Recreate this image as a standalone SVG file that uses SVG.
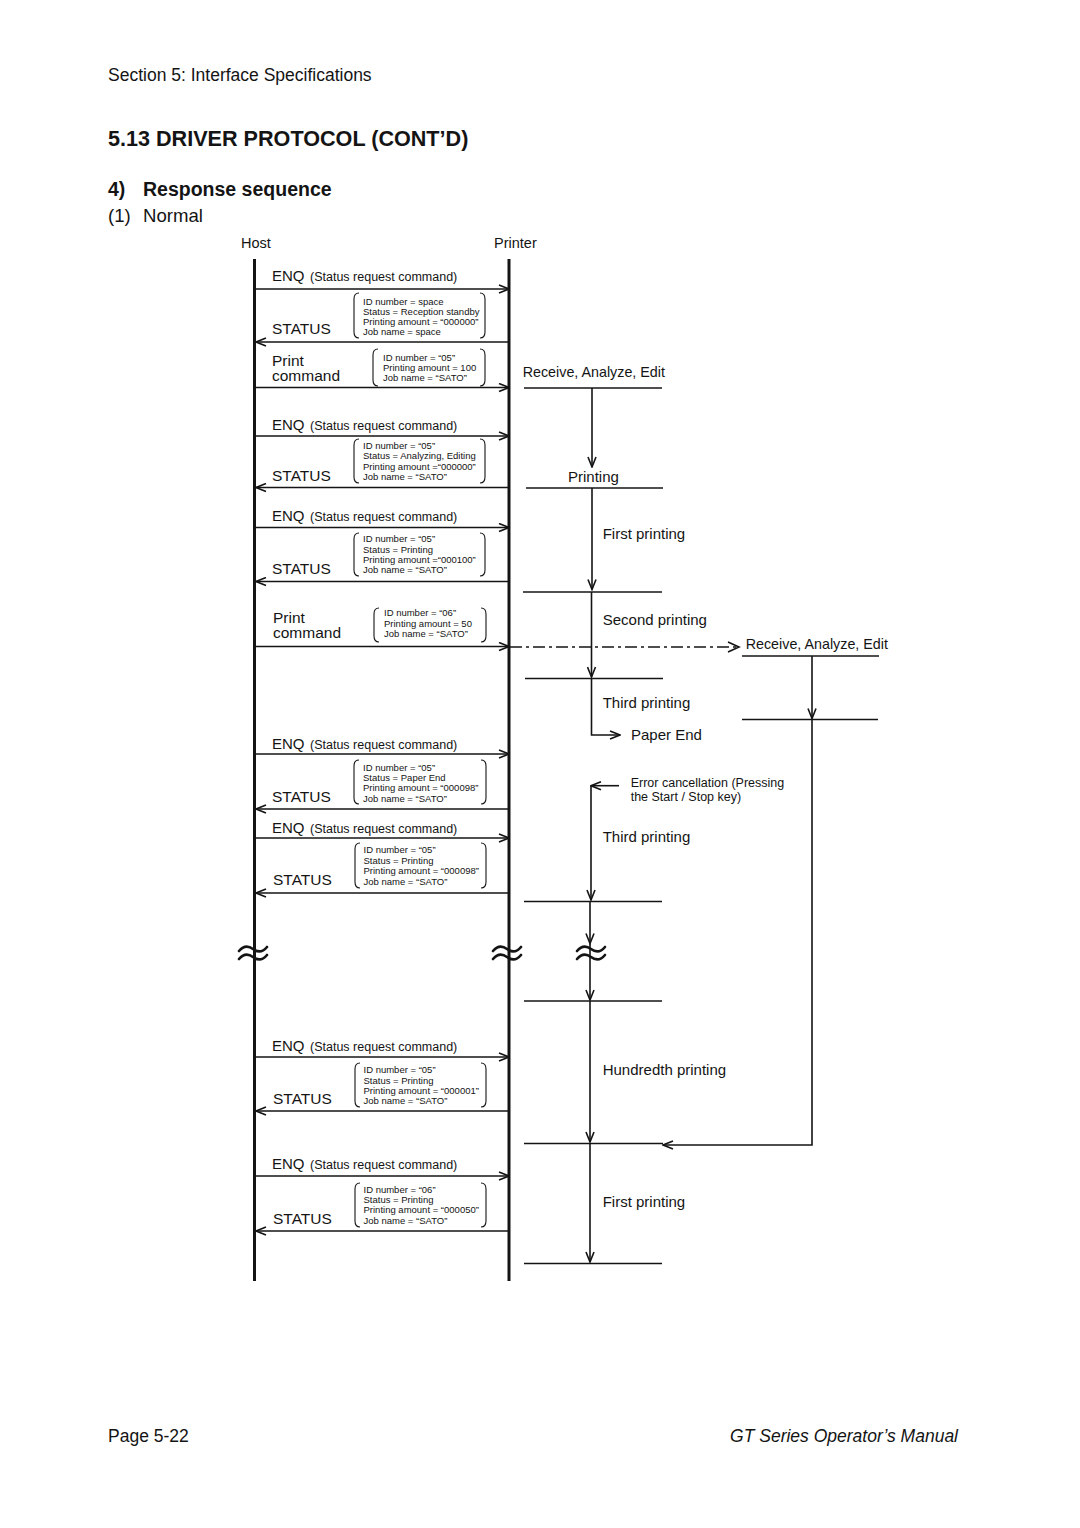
<svg xmlns="http://www.w3.org/2000/svg" width="1080" height="1528" viewBox="0 0 1080 1528">
<style>
text{font-family:"Liberation Sans",Arial,Helvetica,sans-serif;fill:#141414}
.hdr{font-size:17.5px}
.title{font-size:21.6px;font-weight:bold}
.sub{font-size:19.5px;font-weight:bold}
.norm{font-size:18.6px}
.who{font-size:14.5px}
.lbl{font-size:15.5px}
.enq{font-size:15px}
.enqs{font-size:12.5px}
.bx{font-size:9.5px}
.pl{font-size:15px}
.rae{font-size:14.3px}
.err{font-size:12.5px}
.ln{stroke:#141414;stroke-width:1.6;fill:none}
.life{stroke:#141414;stroke-width:3;fill:none}
.br{stroke:#141414;stroke-width:1.1;fill:none}
.sq{stroke:#141414;stroke-width:2.6;fill:none;stroke-linecap:round}
.dd{stroke:#141414;stroke-width:1.6;fill:none;stroke-dasharray:12 4 3 4}
</style>
<defs>
<marker id="ah" viewBox="0 0 12 10" refX="11" refY="5" markerWidth="12" markerHeight="10" markerUnits="userSpaceOnUse" orient="auto">
<path d="M1,1 L11,5 L1,9" fill="none" stroke="#141414" stroke-width="1.6"/>
</marker>
</defs>
<rect width="1080" height="1528" fill="#fff"/>

<g id="header">
<text class="hdr" x="108" y="81">Section 5: Interface Specifications</text>
<text class="title" x="108" y="146">5.13 DRIVER PROTOCOL (CONT’D)</text>
<text class="sub" x="108" y="196">4)</text>
<text class="sub" x="143" y="196">Response sequence</text>
<text class="norm" x="108" y="222">(1)</text>
<text class="norm" x="143" y="222">Normal</text>
</g>

<g id="host"><text class="who" x="241" y="248">Host</text><line class="life" x1="254.5" y1="259" x2="254.5" y2="1281"/></g>
<g id="printer"><text class="who" x="494" y="248">Printer</text><line class="life" x1="509" y1="259" x2="509" y2="1281"/></g>

<g id="breaks">
<path class="sq" d="M239,951 C244,945 249,946 253,949 C257,952 262,953 267,947"/>
<path class="sq" d="M239,959 C244,953 249,954 253,957 C257,960 262,961 267,955"/>
<path class="sq" d="M493,951 C498,945 503,946 507,949 C511,952 516,953 521,947"/>
<path class="sq" d="M493,959 C498,953 503,954 507,957 C511,960 516,961 521,955"/>
<path class="sq" d="M577,951 C582,945 587,946 591,949 C595,952 600,953 605,947"/>
<path class="sq" d="M577,959 C582,953 587,954 591,957 C595,960 600,961 605,955"/>
</g>

<g id="msg-enq1"><text x="272" y="281"><tspan class="enq">ENQ</tspan><tspan class="enqs" x="310">(Status request command)</tspan></text></g>
<g id="msg-status1"><text class="lbl" x="272" y="334">STATUS</text>
<path class="br" d="M359,293 Q354,293 354,299 V332 Q354,338 359,338 M480,293 Q485,293 485,299 V332 Q485,338 480,338"/>
<text class="bx" x="363"><tspan x="363" y="305">ID number = space</tspan><tspan x="363" y="315">Status = Reception standby</tspan><tspan x="363" y="325">Printing amount = “000000”</tspan><tspan x="363" y="335">Job name = space</tspan></text></g>
<g id="msg-print1"><text class="lbl" x="272" y="366">Print</text><text class="lbl" x="272" y="381">command</text>
<path class="br" d="M378,349 Q373,349 373,355 V380 Q373,386 378,386 M480,349 Q485,349 485,355 V380 Q485,386 480,386"/>
<text class="bx"><tspan x="383" y="360.5">ID number = “05”</tspan><tspan x="383" y="370.5">Printing amount = 100</tspan><tspan x="383" y="380.5">Job name = “SATO”</tspan></text></g>

<g id="msg-enq2"><text x="272" y="429.5"><tspan class="enq">ENQ</tspan><tspan class="enqs" x="310">(Status request command)</tspan></text></g>
<g id="msg-status2"><text class="lbl" x="272" y="480.5">STATUS</text>
<path class="br" d="M359,439 Q354,439 354,445 V477 Q354,483 359,483 M480,439 Q485,439 485,445 V477 Q485,483 480,483"/>
<text class="bx"><tspan x="363" y="449">ID number = “05”</tspan><tspan x="363" y="459.3">Status = Analyzing, Editing</tspan><tspan x="363" y="469.6">Printing amount =“000000”</tspan><tspan x="363" y="480">Job name = “SATO”</tspan></text></g>

<g id="msg-enq3"><text x="272" y="521"><tspan class="enq">ENQ</tspan><tspan class="enqs" x="310">(Status request command)</tspan></text></g>
<g id="msg-status3"><text class="lbl" x="272" y="573.5">STATUS</text>
<path class="br" d="M359,533 Q354,533 354,539 V570 Q354,576 359,576 M480,533 Q485,533 485,539 V570 Q485,576 480,576"/>
<text class="bx"><tspan x="363" y="542.3">ID number = “05”</tspan><tspan x="363" y="552.6">Status = Printing</tspan><tspan x="363" y="563">Printing amount =“000100”</tspan><tspan x="363" y="573.3">Job name = “SATO”</tspan></text></g>

<g id="msg-print2"><text class="lbl" x="273" y="623">Print</text><text class="lbl" x="273" y="638">command</text>
<path class="br" d="M379,608 Q374,608 374,614 V636 Q374,642 379,642 M481,608 Q486,608 486,614 V636 Q486,642 481,642"/>
<text class="bx"><tspan x="384" y="616">ID number = “06”</tspan><tspan x="384" y="626.6">Printing amount = 50</tspan><tspan x="384" y="636.6">Job name = “SATO”</tspan></text></g>

<g id="msg-enq4"><text x="272" y="748.7"><tspan class="enq">ENQ</tspan><tspan class="enqs" x="310">(Status request command)</tspan></text></g>
<g id="msg-status4"><text class="lbl" x="272" y="802">STATUS</text>
<path class="br" d="M359,760 Q354,760 354,766 V798 Q354,804 359,804 M481,760 Q486,760 486,766 V798 Q486,804 481,804"/>
<text class="bx"><tspan x="363" y="770.7">ID number = “05”</tspan><tspan x="363" y="781">Status = Paper End</tspan><tspan x="363" y="791.3">Printing amount = “000098”</tspan><tspan x="363" y="801.7">Job name = “SATO”</tspan></text></g>

<g id="msg-enq5"><text x="272" y="833"><tspan class="enq">ENQ</tspan><tspan class="enqs" x="310">(Status request command)</tspan></text></g>
<g id="msg-status5"><text class="lbl" x="273" y="885">STATUS</text>
<path class="br" d="M360,843 Q355,843 355,849 V882 Q355,888 360,888 M481,843 Q486,843 486,849 V882 Q486,888 481,888"/>
<text class="bx"><tspan x="363.5" y="853.4">ID number = “05”</tspan><tspan x="363.5" y="864">Status = Printing</tspan><tspan x="363.5" y="874.4">Printing amount = “000098”</tspan><tspan x="363.5" y="884.7">Job name = “SATO”</tspan></text></g>

<g id="msg-enq6"><text x="272" y="1051.4"><tspan class="enq">ENQ</tspan><tspan class="enqs" x="310">(Status request command)</tspan></text></g>
<g id="msg-status6"><text class="lbl" x="273" y="1104">STATUS</text>
<path class="br" d="M360,1063 Q355,1063 355,1069 V1101 Q355,1107 360,1107 M481,1063 Q486,1063 486,1069 V1101 Q486,1107 481,1107"/>
<text class="bx"><tspan x="363.5" y="1073.4">ID number = “05”</tspan><tspan x="363.5" y="1083.7">Status = Printing</tspan><tspan x="363.5" y="1094">Printing amount = “000001”</tspan><tspan x="363.5" y="1104.4">Job name = “SATO”</tspan></text></g>

<g id="msg-enq7"><text x="272" y="1168.7"><tspan class="enq">ENQ</tspan><tspan class="enqs" x="310">(Status request command)</tspan></text></g>
<g id="msg-status7"><text class="lbl" x="273" y="1224">STATUS</text>
<path class="br" d="M360,1183 Q355,1183 355,1189 V1221 Q355,1227 360,1227 M481,1183 Q486,1183 486,1189 V1221 Q486,1227 481,1227"/>
<text class="bx"><tspan x="363.5" y="1192.7">ID number = “06”</tspan><tspan x="363.5" y="1203">Status = Printing</tspan><tspan x="363.5" y="1213.4">Printing amount = “000050”</tspan><tspan x="363.5" y="1223.7">Job name = “SATO”</tspan></text></g>

<g id="printer-states">
<text class="rae" x="522.7" y="376.7">Receive, Analyze, Edit</text>
<text class="pl" x="568" y="482">Printing</text>
<text class="pl" x="602.7" y="539.4">First printing</text>
<text class="pl" x="602.7" y="624.7">Second printing</text>
<text class="rae" x="745.7" y="649.4">Receive, Analyze, Edit</text>
<text class="pl" x="602.7" y="708">Third printing</text>
<text class="pl" x="631" y="740.4">Paper End</text>
<text class="err" x="630.7" y="787">Error cancellation (Pressing</text>
<text class="err" x="630.7" y="800.5">the Start / Stop key)</text>
<text class="pl" x="602.7" y="842">Third printing</text>
<text class="pl" x="602.7" y="1074.7">Hundredth printing</text>
<text class="pl" x="602.7" y="1207">First printing</text>
</g>

<g id="connectors">
<line class="ln" x1="256" y1="289" x2="509" y2="289" marker-end="url(#ah)"/>
<line class="ln" x1="509" y1="342" x2="256" y2="342" marker-end="url(#ah)"/>
<line class="ln" x1="256" y1="387.5" x2="509" y2="387.5" marker-end="url(#ah)"/>
<line class="ln" x1="256" y1="436" x2="509" y2="436" marker-end="url(#ah)"/>
<line class="ln" x1="509" y1="487.5" x2="256" y2="487.5" marker-end="url(#ah)"/>
<line class="ln" x1="256" y1="527.5" x2="509" y2="527.5" marker-end="url(#ah)"/>
<line class="ln" x1="509" y1="581.5" x2="256" y2="581.5" marker-end="url(#ah)"/>
<line class="ln" x1="256" y1="646.5" x2="509" y2="646.5" marker-end="url(#ah)"/>
<line class="ln" x1="256" y1="754" x2="509" y2="754" marker-end="url(#ah)"/>
<line class="ln" x1="509" y1="809" x2="256" y2="809" marker-end="url(#ah)"/>
<line class="ln" x1="256" y1="838" x2="509" y2="838" marker-end="url(#ah)"/>
<line class="ln" x1="509" y1="893" x2="256" y2="893" marker-end="url(#ah)"/>
<line class="ln" x1="256" y1="1057" x2="509" y2="1057" marker-end="url(#ah)"/>
<line class="ln" x1="509" y1="1111" x2="256" y2="1111" marker-end="url(#ah)"/>
<line class="ln" x1="256" y1="1176" x2="509" y2="1176" marker-end="url(#ah)"/>
<line class="ln" x1="509" y1="1231" x2="256" y2="1231" marker-end="url(#ah)"/>

<line class="ln" x1="524" y1="388" x2="662" y2="388"/>
<line class="ln" x1="526" y1="488" x2="663" y2="488"/>
<line class="ln" x1="523" y1="592" x2="662" y2="592"/>
<line class="ln" x1="525" y1="678.5" x2="663" y2="678.5"/>
<line class="ln" x1="742" y1="656" x2="879" y2="656"/>
<line class="ln" x1="742" y1="719.5" x2="878" y2="719.5"/>
<line class="ln" x1="524" y1="901.5" x2="662" y2="901.5"/>
<line class="ln" x1="524" y1="1001" x2="662" y2="1001"/>
<line class="ln" x1="524" y1="1143.5" x2="663" y2="1143.5"/>
<line class="ln" x1="524" y1="1263.5" x2="662" y2="1263.5"/>

<line class="ln" x1="592" y1="388" x2="592" y2="467" marker-end="url(#ah)"/>
<line class="ln" x1="592" y1="488" x2="592" y2="589.5" marker-end="url(#ah)"/>
<line class="ln" x1="591.5" y1="592" x2="591.5" y2="677" marker-end="url(#ah)"/>
<path class="ln" d="M591.5,678.5 V735 H620" marker-end="url(#ah)"/>
<path class="ln" d="M619,785.7 H591" marker-end="url(#ah)"/>
<line class="ln" x1="591" y1="785.7" x2="591" y2="900" marker-end="url(#ah)"/>
<line class="ln" x1="590" y1="901.5" x2="590" y2="943.5" marker-end="url(#ah)"/>
<line class="ln" x1="590" y1="943.5" x2="590" y2="1000" marker-end="url(#ah)"/>
<line class="ln" x1="590" y1="1001" x2="590" y2="1142" marker-end="url(#ah)"/>
<line class="ln" x1="590" y1="1143.5" x2="590" y2="1262" marker-end="url(#ah)"/>

<line class="dd" x1="510" y1="647" x2="739" y2="647"/>
<path class="ln" d="M728,642 L739,647 L728,652"/>
<line class="ln" x1="812" y1="656" x2="812" y2="718.5" marker-end="url(#ah)"/>
<path class="ln" d="M812,719.5 V1145 H663" marker-end="url(#ah)"/>
</g>

<g id="footer">
<text class="hdr" x="108" y="1442">Page 5-22</text>
<text class="hdr" x="958" y="1442" text-anchor="end" font-style="italic">GT Series Operator’s Manual</text>
</g>
</svg>
